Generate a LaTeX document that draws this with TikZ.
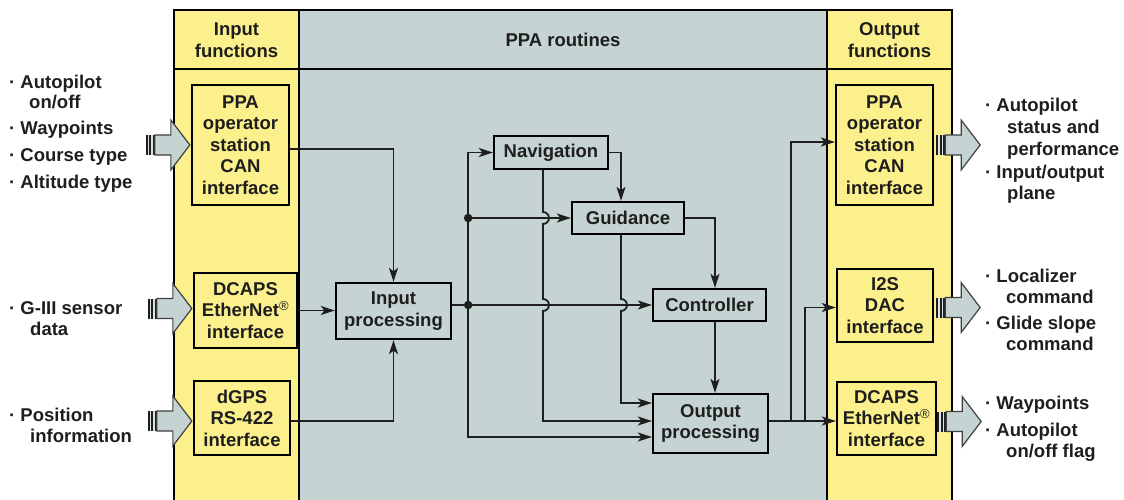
\documentclass[tikz,border=0pt]{standalone}
\usepackage{fontspec}
\setmainfont{Liberation Sans}
\usetikzlibrary{arrows.meta,calc}
\definecolor{ppayellow}{RGB}{251,240,140}
\definecolor{ppagrey}{RGB}{197,211,211}
\definecolor{ink}{RGB}{30,30,30}
\begin{document}
\begin{tikzpicture}[x=1pt,y=-1pt,
  lbl/.style={font=\fontsize{18.5}{21.5}\selectfont\bfseries, text=ink},
  box/.style={draw=black, line width=2.3pt, inner sep=0pt, align=center, lbl},
  ybox/.style={box, fill=ppayellow},
  gbox/.style={box, fill=ppagrey},
  conn/.style={draw=ink, line width=1.8pt},
  arr/.style={conn, -{Stealth[length=14pt,width=9pt,inset=3.5pt]}},
  jdot/.style={circle, fill=ink, inner sep=0pt, minimum size=8.5pt},
  txt/.style={lbl, anchor=base west, inner sep=0pt},
  hdr/.style={lbl, align=center, inner sep=0pt},
  fatarr/.pic={
    \fill[ppagrey!60!white] (0,-10) rectangle (9,10);
    \fill[ink] (0,-10) rectangle (1.8,10);
    \fill[ink] (3.6,-10) rectangle (5.4,10);
    \fill[ink] (7.2,-10) rectangle (9,10);
    \filldraw[fill=ppagrey, draw=ink!85, line width=1.2pt]
      (9,-10) -- (25,-10) -- (25,-25) -- (44,0) -- (25,25) -- (25,10) -- (9,10) -- cycle;
  }
]
\useasboundingbox (0,0) rectangle (1124,500);
% columns
\fill[ppayellow] (174,10) rectangle (299,500);
\fill[ppagrey] (299,10) rectangle (827,500);
\fill[ppayellow] (827,10) rectangle (952,500);
\draw[black, line width=2.4pt] (174,500) -- (174,10) -- (952,10) -- (952,500);
\draw[black, line width=2.2pt] (299,10) -- (299,500);
\draw[black, line width=2.2pt] (827,10) -- (827,500);
\draw[black, line width=2.2pt] (174,69) -- (952,69);
% headers
\node[hdr] (hin) at (236.5,40) {Input\\functions};
\node[hdr] (hppa) at (563,40) {PPA routines};
\node[hdr] (hout) at (889.5,40) {Output\\functions};
% input boxes
\node[ybox, minimum width=97pt, minimum height=120pt] (inppa) at (240.5,145) {PPA\\operator\\station\\CAN\\interface};
\node[ybox, minimum width=103pt, minimum height=75pt] (indcaps) at (245.5,310.5) {DCAPS\\EtherNet\textsuperscript{\mdseries\textregistered}\\interface};
\node[ybox, minimum width=96pt, minimum height=74pt] (indgps) at (242,418) {dGPS\\RS-422\\interface};
% output boxes
\node[ybox, minimum width=97pt, minimum height=120pt] (outppa) at (884.5,145) {PPA\\operator\\station\\CAN\\interface};
\node[ybox, minimum width=96pt, minimum height=73pt] (outi2s) at (885,305.5) {I2S\\DAC\\interface};
\node[ybox, minimum width=99pt, minimum height=73pt] (outdcaps) at (886.5,418.5) {DCAPS\\EtherNet\textsuperscript{\mdseries\textregistered}\\interface};
% routine boxes
\node[gbox, minimum width=115pt, minimum height=56pt] (inproc) at (393.5,311) {Input\\processing};
\node[gbox, minimum width=114pt, minimum height=33pt] (nav) at (551,152.5) {Navigation};
\node[gbox, minimum width=112pt, minimum height=32pt] (guid) at (628,218) {Guidance};
\node[gbox, minimum width=113pt, minimum height=32pt] (ctrl) at (709.5,305) {Controller};
\node[gbox, minimum width=115pt, minimum height=59pt] (outproc) at (710.5,423.5) {Output\\processing};
% fat arrows
\pic at ($(inppa.west)+(-45,0)$) {fatarr};
\pic at ($(indcaps.west)+(-45,-2)$) {fatarr};
\pic at ($(indgps.west)+(-45,3)$) {fatarr};
\pic at ($(outppa.east)+(2,0)$) {fatarr};
\pic at ($(outi2s.east)+(2,2)$) {fatarr};
\pic at ($(outdcaps.east)+(0,3)$) {fatarr};
% helper coordinates
\coordinate (oin1) at ($(outproc.west)+(0,-20.5)$);
\coordinate (oin2) at ($(outproc.west)+(0,-2.5)$);
\coordinate (oin3) at ($(outproc.west)+(0,13.5)$);
\coordinate (oout) at ($(outproc.east)+(0,-2.5)$);
\coordinate (nv) at ($(nav.south)+(-8,0)$);
\coordinate (gv) at ($(guid.south)+(-7,0)$);
\coordinate (cv) at ($(ctrl.north)+(5.5,0)$);
\coordinate (j2) at ($(inproc.east |- ctrl.west)+(16,0)$);
\coordinate (j1) at (j2 |- guid.west);
\coordinate (b1) at ($(oout)+(22,0)$);
\coordinate (b2) at ($(oout)+(36,0)$);
% input connectors
\draw[arr] ($(inppa.east)+(0,4)$) -| (inproc.north);
\draw[arr] (indcaps.east) -- (indcaps.east -| inproc.west);
\draw[arr] ($(indgps.east)+(0,3)$) -| (inproc.south);
% routines
\draw[arr] (inproc.east |- ctrl.west) -- (ctrl.west);
\draw[arr] (j2) |- (nav.west);
\draw[arr] (j2) |- (oin3);
\draw[arr] (j1) -- (guid.west);
\draw[arr] (nav.east) -| (gv |- guid.north);
\draw[arr] (guid.east) -| (cv);
\draw[arr] (ctrl.south -| cv) -- (outproc.north -| cv);
\draw[arr] (nv) -- ($(nv |- guid.west)+(0,-6)$) arc[start angle=90, end angle=-90, radius=6pt]
  -- ($(nv |- ctrl.west)+(0,-6)$) arc[start angle=90, end angle=-90, radius=6pt]
  -- (nv |- oin2) -- (oin2);
\draw[arr] (gv) -- ($(gv |- ctrl.west)+(0,-6)$) arc[start angle=90, end angle=-90, radius=6pt]
  -- (gv |- oin1) -- (oin1);
\node[jdot] (d1) at (j1) {};
\node[jdot] (d2) at (j2) {};
% outputs
\draw[arr] (oout) -- (oout -| outdcaps.west);
\draw[arr] (b1) |- ($(outppa.west)+(0,-3)$);
\draw[arr] (b2) |- ($(outi2s.west)+(0,2)$);
% left labels
\node[txt] (l1) at (9,89) {· Autopilot};
\node[txt] (l1b) at (29,109) {on/off};
\node[txt] (l2) at (9,135) {· Waypoints};
\node[txt] (l3) at (9,161) {· Course type};
\node[txt] (l4) at (9,188) {· Altitude type};
\node[txt] (l5) at (9,314) {· G-III sensor};
\node[txt] (l5b) at (30,335) {data};
\node[txt] (l6) at (9,421) {· Position};
\node[txt] (l6b) at (30,442) {information};
% right labels
\node[txt] (r1) at (985,112) {· Autopilot};
\node[txt] (r1b) at (1007,134) {status and};
\node[txt] (r1c) at (1007,156) {performance};
\node[txt] (r2) at (985,178) {· Input/output};
\node[txt] (r2b) at (1007,199) {plane};
\node[txt] (r3) at (985,282) {· Localizer};
\node[txt] (r3b) at (1006,303) {command};
\node[txt] (r4) at (985,329) {· Glide slope};
\node[txt] (r4b) at (1006,350) {command};
\node[txt] (r5) at (985,409) {· Waypoints};
\node[txt] (r6) at (985,436) {· Autopilot};
\node[txt] (r6b) at (1006,457) {on/off flag};
\end{tikzpicture}
\end{document}
